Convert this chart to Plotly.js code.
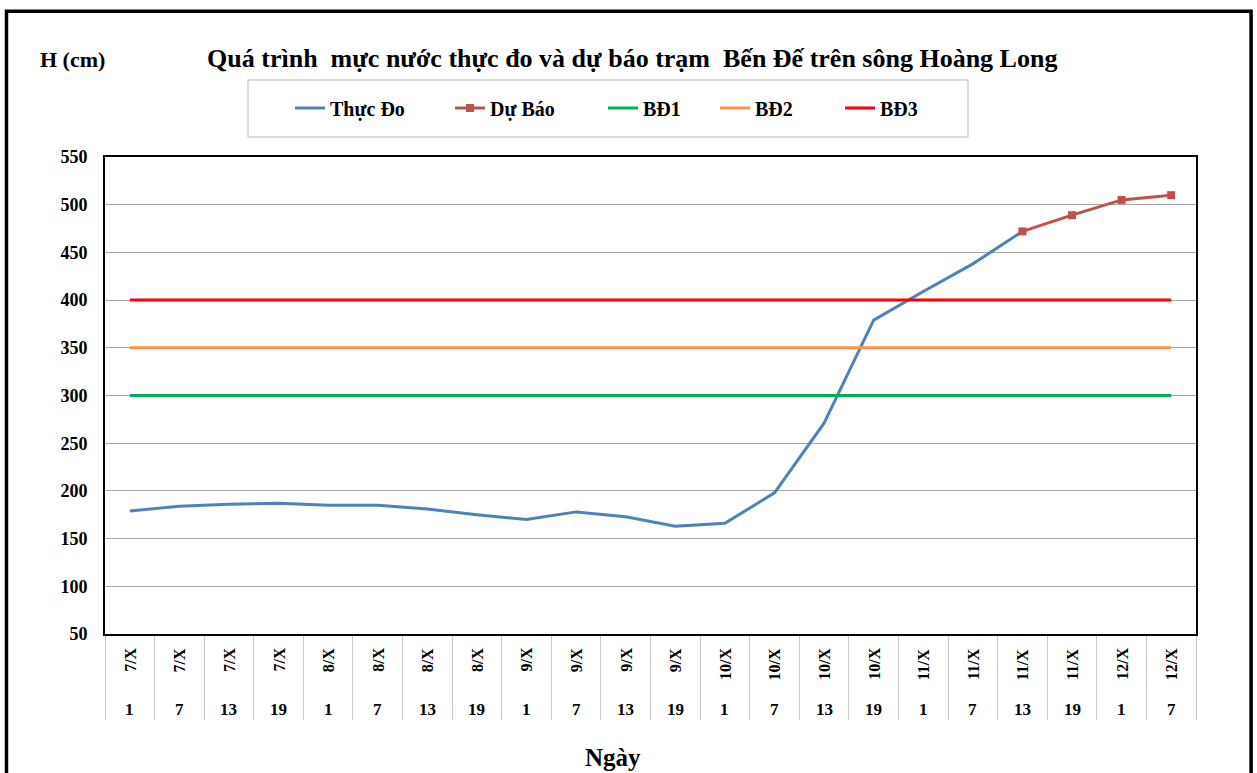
<!DOCTYPE html>
<html>
<head>
<meta charset="utf-8">
<script src="https://cdn.plot.ly/plotly-3.0.1.min.js"></script>
<style>html,body{margin:0;padding:0;background:#fff;}#chart{width:1257px;height:773px;}</style>
</head>
<body>
<div id="chart"></div>
<script>
// ---- data ----
const dates = ['7/X','7/X','7/X','7/X','8/X','8/X','8/X','8/X','9/X','9/X','9/X','9/X',
               '10/X','10/X','10/X','10/X','11/X','11/X','11/X','11/X','12/X','12/X'];
const hours = [1,7,13,19,1,7,13,19,1,7,13,19,1,7,13,19,1,7,13,19,1,7];
const thucDo = [179,184,186,187,185,185,181,175,170,178,173,163,166,198,271,379,409,438,472,null,null,null];
const duBao  = [null,null,null,null,null,null,null,null,null,null,null,null,null,null,null,null,null,null,472,489,505,510];
const BD1 = 300, BD2 = 350, BD3 = 400;
const yTicks = [50,100,150,200,250,300,350,400,450,500,550];

const cats = dates.map((d,i) => d + ' ' + hours[i]);
const FONT = 'Liberation Serif, Times New Roman, serif';

const traces = [
  {x: cats, y: thucDo, name: '<b>Thực Đo</b>', type: 'scatter', mode: 'lines',
   line: {color: '#4F81BD', width: 3}, legendwidth: 115},
  {x: cats, y: duBao, name: '<b>Dự Báo</b>', type: 'scatter', mode: 'lines+markers',
   line: {color: '#C0504D', width: 3}, marker: {symbol: 'square', size: 8, color: '#C0504D'}, legendwidth: 108},
  {x: [cats[0], cats[cats.length-1]], y: [BD1, BD1], name: '<b>BĐ1</b>', type: 'scatter', mode: 'lines',
   line: {color: '#00B050', width: 3}, legendwidth: 67},
  {x: [cats[0], cats[cats.length-1]], y: [BD2, BD2], name: '<b>BĐ2</b>', type: 'scatter', mode: 'lines',
   line: {color: '#F79646', width: 3}, legendwidth: 80},
  {x: [cats[0], cats[cats.length-1]], y: [BD3, BD3], name: '<b>BĐ3</b>', type: 'scatter', mode: 'lines',
   line: {color: '#FF0000', width: 3}, legendwidth: 60}
];

const annotations = [];
cats.forEach((c,i) => {
  annotations.push({x: c, xref: 'x', y: -0.0252, yref: 'paper', yanchor: 'top', xanchor: 'center',
    text: '<b>' + dates[i] + '</b>', textangle: -90, showarrow: false,
    font: {family: FONT, size: 16, color: '#000'}});
  annotations.push({x: c, xref: 'x', y: -0.159, yref: 'paper', yanchor: 'middle', xanchor: 'center',
    text: '<b>' + hours[i] + '</b>', showarrow: false,
    font: {family: FONT, size: 17, color: '#000'}});
});
annotations.push({x: -0.030, xref: 'paper', y: 1.2034, yref: 'paper', xanchor: 'center', yanchor: 'middle',
  text: '<b>H (cm)</b>', showarrow: false, font: {family: FONT, size: 22, color: '#000'}});
annotations.push({x: 0.4656, xref: 'paper', y: -0.258, yref: 'paper', xanchor: 'center', yanchor: 'middle',
  text: '<b>Ngày</b>', showarrow: false, font: {family: FONT, size: 25, color: '#000'}});

const shapes = [
  // outer frame
  {type: 'rect', xref: 'paper', yref: 'paper', x0: -0.0903, x1: 1.0505, y0: 1.3057, y1: -0.40,
   line: {color: '#000', width: 3.5}},
  // legend box
  {type: 'rect', xref: 'paper', yref: 'paper', x0: 0.1311, x1: 0.791, y0: 1.1614, y1: 1.0419,
   line: {color: '#d0d0d0', width: 1.5}}
];

const layout = {
  width: 1257, height: 773,
  margin: {l: 105, r: 61, t: 157, b: 139},
  paper_bgcolor: '#fff', plot_bgcolor: '#fff',
  showlegend: true,
  hovermode: false,
  title: {text: '<b>Quá trình  mực nước thực đo và dự báo trạm  Bến Đế trên sông Hoàng Long</b>',
    x: 0.503, xref: 'container', xanchor: 'center', y: 0.925, yref: 'container', yanchor: 'middle',
    font: {family: FONT, size: 26, color: '#000'}},
  legend: {orientation: 'h', x: 0.1696, xanchor: 'left', y: 1.1027, yanchor: 'middle',
    bgcolor: 'rgba(0,0,0,0)', borderwidth: 0, font: {family: FONT, size: 20, color: '#000'},
    itemclick: false},
  xaxis: {type: 'category', categoryorder: 'array', categoryarray: cats,
    showticklabels: false, showgrid: false, zeroline: false,
    ticks: 'outside', tickson: 'boundaries', ticklen: 84, tickcolor: '#c8c8c8', tickwidth: 1,
    showline: true, linecolor: '#000', linewidth: 2, mirror: true,
    range: [-0.5, cats.length - 0.5], fixedrange: true},
  yaxis: {range: [50, 550], tickvals: yTicks, ticktext: yTicks.map(v => '<b>' + v + '</b>'),
    showgrid: true, gridcolor: '#a6a6a6', gridwidth: 1, zeroline: false,
    showline: true, linecolor: '#000', linewidth: 2, mirror: true,
    ticks: '', ticklabelstandoff: 12,
    tickfont: {family: FONT, size: 18, color: '#000'}, fixedrange: true},
  annotations: annotations,
  shapes: shapes
};

Plotly.newPlot('chart', traces, layout, {displayModeBar: false, staticPlot: true});
</script>
</body>
</html>
